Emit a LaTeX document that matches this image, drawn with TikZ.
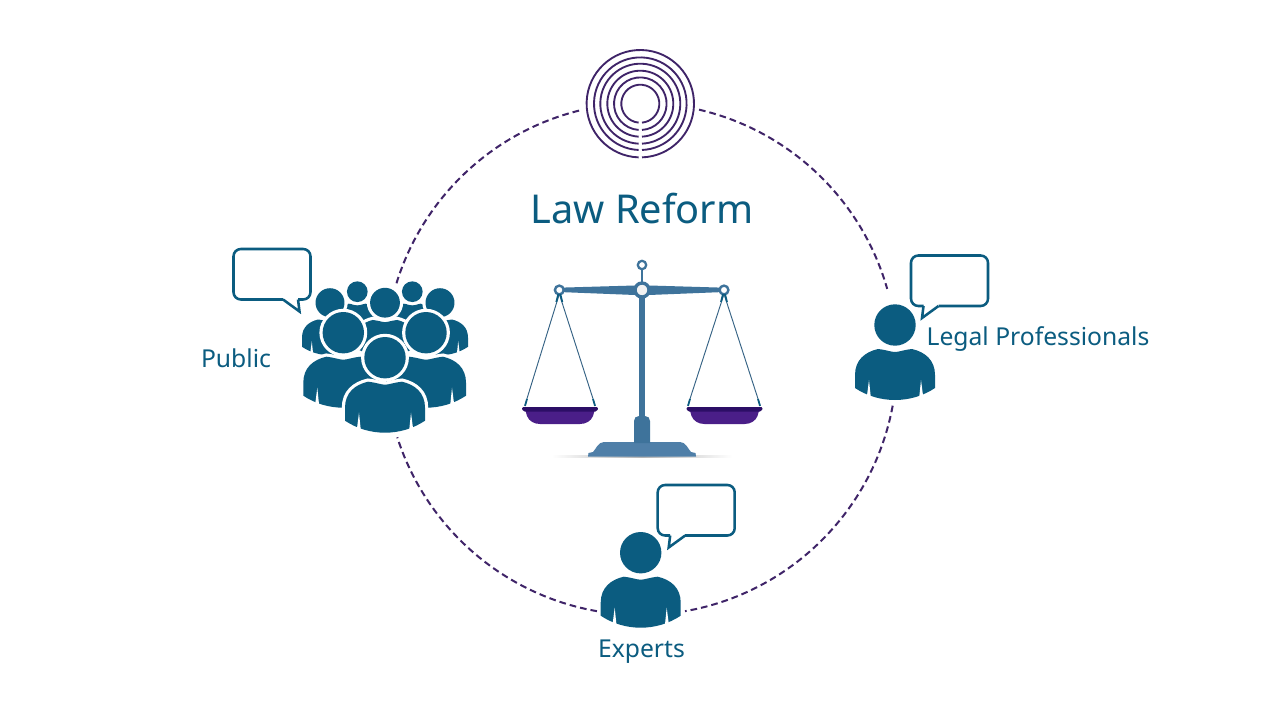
\documentclass[tikz,border=0pt]{standalone}
\usepackage{fontspec}
\setmainfont{Noto Sans}
\definecolor{teal}{HTML}{0B5C80}
\definecolor{ringc}{HTML}{3F2468}
\definecolor{steel}{HTML}{3E739B}
\definecolor{steelb}{HTML}{4F7FA8}
\definecolor{panc}{HTML}{4A1E88}
\definecolor{pand}{HTML}{2C0E66}
\newcommand{\bodypath}{(-17,24) .. controls (-8,25) and (-4,27) .. (0,27) .. controls (4,27) and (8,25) .. (17,24) .. controls (30,27) and (40,35) .. (40,50) -- (40,63) .. controls (28,71) and (14,75) .. (0,75) .. controls (-14,75) and (-28,71) .. (-40,63) -- (-40,50) .. controls (-40,35) and (-30,27) .. (-17,24) -- cycle}
\tikzset{
  lbl/.style={text=teal,inner sep=0pt,font=\fontsize{18.5pt}{22pt}\selectfont},
  dashring/.style={draw=ringc,line width=1.5pt,dash pattern=on 5pt off 3pt},
  bubbleline/.style={draw=teal,line width=1.9pt,line join=miter,fill=white},
  personicon/.pic={
    \path[draw=white,fill=white,line width=4.8pt] \bodypath;
    \fill[teal] \bodypath;
    \fill[white] (-26,55) -- (-24.3,71.5) -- (-28,70.5) -- cycle;
    \fill[white] (26,55) -- (24.3,71.5) -- (28,70.5) -- cycle;
    \path[draw=white,fill=white,line width=4.8pt] (0,0) circle[radius=20.7];
    \fill[teal] (0,0) circle[radius=20.7];
  },
  bubbleicon/.pic={
    \path[bubbleline,rounded corners=5.5pt] (12.5,50.5) -- (0,50.5) -- (0,0) -- (77,0) -- (77,50.5) -- (27.5,50.5);
    \path[draw=teal,line width=1.9pt,line join=miter] (12.5,50.5) -- (11,62.5) -- (27.5,50.5);
  },
  panicon/.pic={
    \fill[panc] (-35,0) -- (35,0) -- (33,7) .. controls (31,12) and (26,15) .. (20,15) -- (-20,15) .. controls (-26,15) and (-31,12) .. (-33,7) -- cycle;
    \fill[pand,rounded corners=1.2pt] (-38.5,-2) -- (38.5,-2) -- (37,2.5) -- (-37,2.5) -- cycle;
  }
}
\begin{document}
\begin{tikzpicture}[x=0.75pt,y=-0.75pt]
\path[use as bounding box,fill=white] (0,0) rectangle (1280,720);
\coordinate (ringcentre) at (641,359);

% dashed ring
\draw[dashring] (ringcentre) ++(-76.9:256) arc[start angle=-76.9,end angle=-15.9,radius=256];
\draw[dashring] (ringcentre) ++(10.5:256) arc[start angle=10.5,end angle=80.1,radius=256];
\draw[dashring] (ringcentre) ++(99.9:256) arc[start angle=99.9,end angle=162.2,radius=256];
\draw[dashring] (ringcentre) ++(197.2:256) arc[start angle=197.2,end angle=256.1,radius=256];

% spiral logo
\coordinate (logo) at (640.3,103.7);
\foreach \r in {19,26.3,33,40,46.3,53.7}{
  \pgfmathsetmacro{\g}{asin(1.7/\r)}
  \draw[ringc,line width=1.4pt] (logo) ++(90+\g:\r) arc[start angle=90+\g,end angle=450-\g,radius=\r];
}

% title
\node[text=teal,inner sep=0pt,font=\fontsize{29.8pt}{33pt}\selectfont] (title) at (642,209) {Law Reform};

% scales
\path[left color=white,right color=white,middle color=black!30] (552,455) rectangle (732,457.5);
\fill[steelb] (588,456.5) -- (696,456.5) -- (695.5,453) -- (691,452) .. controls (688,449) and (686,442) .. (680,442) -- (604,442) .. controls (598,442) and (596,449) .. (593,452) -- (588.5,453) -- cycle;
\fill[steel] (634,443) -- (634,421) .. controls (634,418) and (636,416) .. (639,416) -- (645,416) .. controls (648,416) and (650,418) .. (650,421) -- (650,443) -- cycle;
\fill[steel] (639,418) -- (639,292) -- (645,292) -- (645,418) -- cycle;
\fill[steel] (640.7,270) rectangle (643.3,285);
\fill[steel] (559,287.7) -- (635,285.5) -- (649,285.5) -- (724,287.7) -- (724,292) -- (649,295) -- (635,295) -- (559,292) -- cycle;
\draw[steel,line width=1.7pt,fill=white] (642,265) circle[radius=4.2];
\draw[steel,line width=2.5pt,fill=black!5] (642,290) circle[radius=7];
\draw[steel,line width=1.8pt,fill=white] (559.3,290) circle[radius=4.4];
\draw[steel,line width=1.8pt,fill=white] (724,290) circle[radius=4.4];
\foreach \x/\a/\b in {559.3/525/595,724/688/760}{
  \draw[steel!85!black,line width=.7pt] (\x,294) -- (\a,405);
  \draw[steel!85!black,line width=.7pt] (\x,294) -- (\b,405);
  \draw[teal,line width=1.3pt] (\x-1,294) -- (\x-3,302);
  \draw[teal,line width=1.3pt] (\x+1,294) -- (\x+3,302);
  \draw[teal,line width=1.3pt] (\a,406) -- (\a+2,399);
  \draw[teal,line width=1.3pt] (\b,406) -- (\b-2,399);
}
\pic at (560,409) {panicon};
\pic at (724.5,409) {panicon};

% people
\pic at (640.7,552.7) {personicon};
\pic at (895,325) {personicon};
\pic[scale=.5] at (357.3,291.7) {personicon};
\pic[scale=.5] at (412.3,291.7) {personicon};
\pic[scale=.7] at (330,302.7) {personicon};
\pic[scale=.7] at (440,302.7) {personicon};
\pic[scale=.72] at (385,302.7) {personicon};
\pic at (343.3,332.7) {personicon};
\pic at (426,332.7) {personicon};
\pic at (385,357.7) {personicon};

% bubbles
\pic at (657.7,485) {bubbleicon};
\pic at (911,255.5) {bubbleicon};
\pic[xscale=-1] at (310.5,249) {bubbleicon};

% labels
\node[lbl] (public) at (236,358) {Public};
\node[lbl] (legal) at (1038,339) {Legal Professionals};
\node[lbl] (experts) at (641.5,652) {Experts};
\end{tikzpicture}
\end{document}
